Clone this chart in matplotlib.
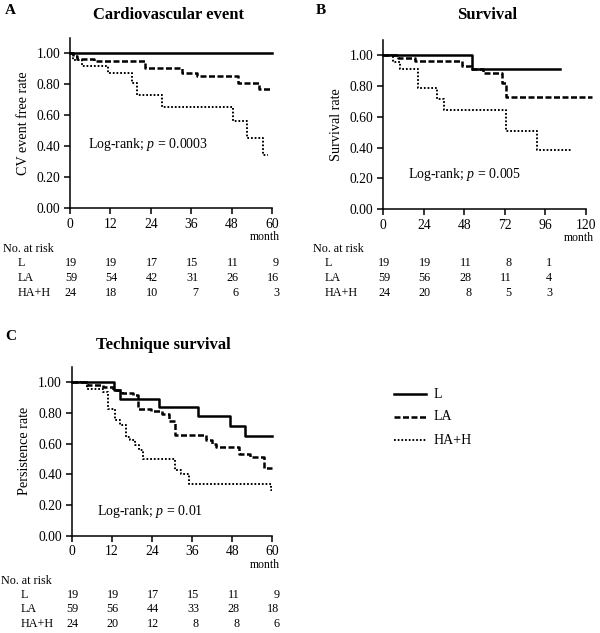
import matplotlib
matplotlib.use("Agg")
import matplotlib.pyplot as plt
from matplotlib.lines import Line2D

plt.rcParams["font.family"] = ["Liberation Serif", "DejaVu Serif"]
plt.rcParams["mathtext.fontset"] = "custom"
plt.rcParams["mathtext.rm"] = "Liberation Serif"
plt.rcParams["mathtext.it"] = "Liberation Serif:italic"

# Kaplan-Meier steps (time in months, rate)
# A: cardiovascular event
cv_t_L = [0, 60]
cv_s_L = [1.0, 1.0]
cv_t_LA = [0, 1, 2, 7, 22.3, 33.2, 37.6, 50, 56, 60]
cv_s_LA = [1.0, 0.983, 0.966, 0.949, 0.905, 0.875, 0.854, 0.81, 0.772, 0.772]
cv_t_H = [0, 1, 3.5, 11.4, 18.3, 19.8, 27.4, 48.5, 52.5, 57.4, 58.8]
cv_s_H = [1.0, 0.958, 0.917, 0.875, 0.806, 0.729, 0.656, 0.563, 0.45, 0.34, 0.34]

# B: survival
sv_t_L = [0, 52.8, 105]
sv_s_L = [1.0, 0.909, 0.909]
sv_t_LA = [0, 9, 18.8, 46.4, 52, 59.3, 70.2, 72.7, 124]
sv_s_LA = [1.0, 0.983, 0.963, 0.93, 0.91, 0.885, 0.82, 0.729, 0.729]
sv_t_H = [0, 5.8, 9.9, 20.7, 31.6, 36, 72.7, 90.9, 111]
sv_s_H = [1.0, 0.957, 0.909, 0.788, 0.714, 0.643, 0.508, 0.383, 0.383]

# C: technique survival
ts_t_L = [0, 12.7, 14.5, 26.2, 37.9, 47.3, 51.8, 60]
ts_s_L = [1.0, 0.946, 0.892, 0.838, 0.779, 0.714, 0.649, 0.649]
ts_t_LA = [0, 4.5, 9.5, 12.5, 15, 18.4, 19.9, 23.7, 27, 29, 31, 40.3, 42, 43.3, 50, 53.3, 57.5, 60]
ts_s_LA = [1.0, 0.983, 0.966, 0.949, 0.932, 0.915, 0.827, 0.81, 0.79, 0.745, 0.654, 0.62, 0.6,
           0.578, 0.535, 0.513, 0.438, 0.438]
ts_t_H = [0, 4.5, 9.5, 10.9, 13, 14.5, 16.3, 17.5, 18.8, 20, 21.2, 30.9, 32.8, 35.2, 59.5, 60]
ts_s_H = [1.0, 0.958, 0.938, 0.827, 0.751, 0.719, 0.643, 0.62, 0.589, 0.557, 0.5, 0.43, 0.40,
          0.336, 0.297, 0.297]

groups = ["L", "LA", "HA+H"]

# numbers at risk
cv_risk_t = [0, 12, 24, 36, 48, 60]
cv_risk = [[19, 19, 17, 15, 11, 9], [59, 54, 42, 31, 26, 16], [24, 18, 10, 7, 6, 3]]
sv_risk_t = [0, 24, 48, 72, 96]
sv_risk = [[19, 19, 11, 8, 1], [59, 56, 28, 11, 4], [24, 20, 8, 5, 3]]
ts_risk_t = [0, 12, 24, 36, 48, 60]
ts_risk = [[19, 19, 17, 15, 11, 9], [59, 56, 44, 33, 28, 18], [24, 20, 12, 8, 8, 6]]

W, H = 600, 633
fig = plt.figure(figsize=(6, 6.33), dpi=100)

styles = [
    dict(color="black", lw=1.8, linestyle="-"),
    dict(color="black", lw=1.8, linestyle=(0, (2.4, 1.0))),
    dict(color="black", lw=1.4, linestyle=(0, (0.9, 1.0))),
]


def fx(px):
    return px / W


def fy(py):
    return 1 - py / H


def panel(rect, curves, xmax, xstep, ylabel, title, title_xy, letter, letter_xy,
          logrank, lr_xy, risk_t, risk, table_px, lab_px):
    ax = fig.add_axes(rect)
    for (t, s), st in zip(curves, styles):
        ax.step(t, s, where="post", clip_on=False, **st)
    ax.set_xlim(0, xmax)
    ax.set_ylim(0, 1.1)
    ax.set_xticks(range(0, xmax + 1, xstep))
    ax.set_yticks([0, 0.2, 0.4, 0.6, 0.8, 1.0])
    ax.set_yticklabels(["%.2f" % v for v in [0, 0.2, 0.4, 0.6, 0.8, 1.0]])
    for sp in ["top", "right"]:
        ax.spines[sp].set_visible(False)
    for sp in ["left", "bottom"]:
        ax.spines[sp].set_linewidth(1.1)
    ax.tick_params(direction="out", length=4, width=1.1, labelsize=9.8, pad=3)
    ax.set_ylabel(ylabel, fontsize=10.2, labelpad=5)
    ax.text(lr_xy[0], lr_xy[1], logrank, fontsize=10, ha="left", va="center")
    ax.annotate("month", xy=(1, 0), xycoords="axes fraction", xytext=(8, -29),
                textcoords="offset pixels", ha="right", va="center", fontsize=8.5)

    fig.text(fx(title_xy[0]), fy(title_xy[1]), title, fontsize=12, fontweight="bold",
             ha="center", va="center")
    fig.text(fx(letter_xy[0]), fy(letter_xy[1]), letter, fontsize=11, fontweight="bold",
             ha="left", va="center")

    # risk table
    y_head, y_rows = table_px
    fig.text(fx(lab_px[0]), fy(y_head), "No. at risk", fontsize=8.7, ha="left", va="center")
    for g, row, yr in zip(groups, risk, y_rows):
        fig.text(fx(lab_px[1]), fy(yr), g, fontsize=8.7, ha="left", va="center")
        for t, n in zip(risk_t, row):
            ax.annotate(str(n), xy=(t, fy(yr)), xycoords=("data", "figure fraction"),
                        xytext=(7, 0), textcoords="offset pixels", ha="right", va="center",
                        fontsize=8.7, annotation_clip=False)
    return ax


panel([fx(70), fy(208), fx(272) - fx(70), fy(38) - fy(208)],
      [(cv_t_L, cv_s_L), (cv_t_LA, cv_s_LA), (cv_t_H, cv_s_H)], 60, 12,
      "CV event free rate", "Cardiovascular event", (168, 15), "A", (5, 10),
      r"Log-rank; $p$ = 0.0003", (5.3, 0.413),
      cv_risk_t, cv_risk, (249, [263, 278, 293]), (3, 18))

panel([fx(383.3), fy(209), fx(585.7) - fx(383.3), fy(40) - fy(209)],
      [(sv_t_L, sv_s_L), (sv_t_LA, sv_s_LA), (sv_t_H, sv_s_H)], 120, 24,
      "Survival rate", "Survival", (487, 15), "B", (316, 10),
      r"Log-rank; $p$ = 0.005", (14.8, 0.227),
      sv_risk_t, sv_risk, (249, [263, 278, 293]), (313, 325))

panel([fx(71.7), fy(535.7), fx(272.3) - fx(71.7), fy(366.7) - fy(535.7)],
      [(ts_t_L, ts_s_L), (ts_t_LA, ts_s_LA), (ts_t_H, ts_s_H)], 60, 12,
      "Persistence rate", "Technique survival", (163, 345), "C", (5, 336),
      r"Log-rank; $p$ = 0.01", (7.5, 0.156),
      ts_risk_t, ts_risk, (580.7, [595, 609.5, 624.3]), (1, 21))

# legend (drawn by hand, as in the original)
for g, st, yy in zip(groups, styles, [394, 417, 440]):
    fig.add_artist(Line2D([fx(394), fx(426)], [fy(yy), fy(yy)], transform=fig.transFigure, **st))
    fig.text(fx(434), fy(yy), g, fontsize=10, ha="left", va="center")

fig.savefig("out.png", dpi=100)
